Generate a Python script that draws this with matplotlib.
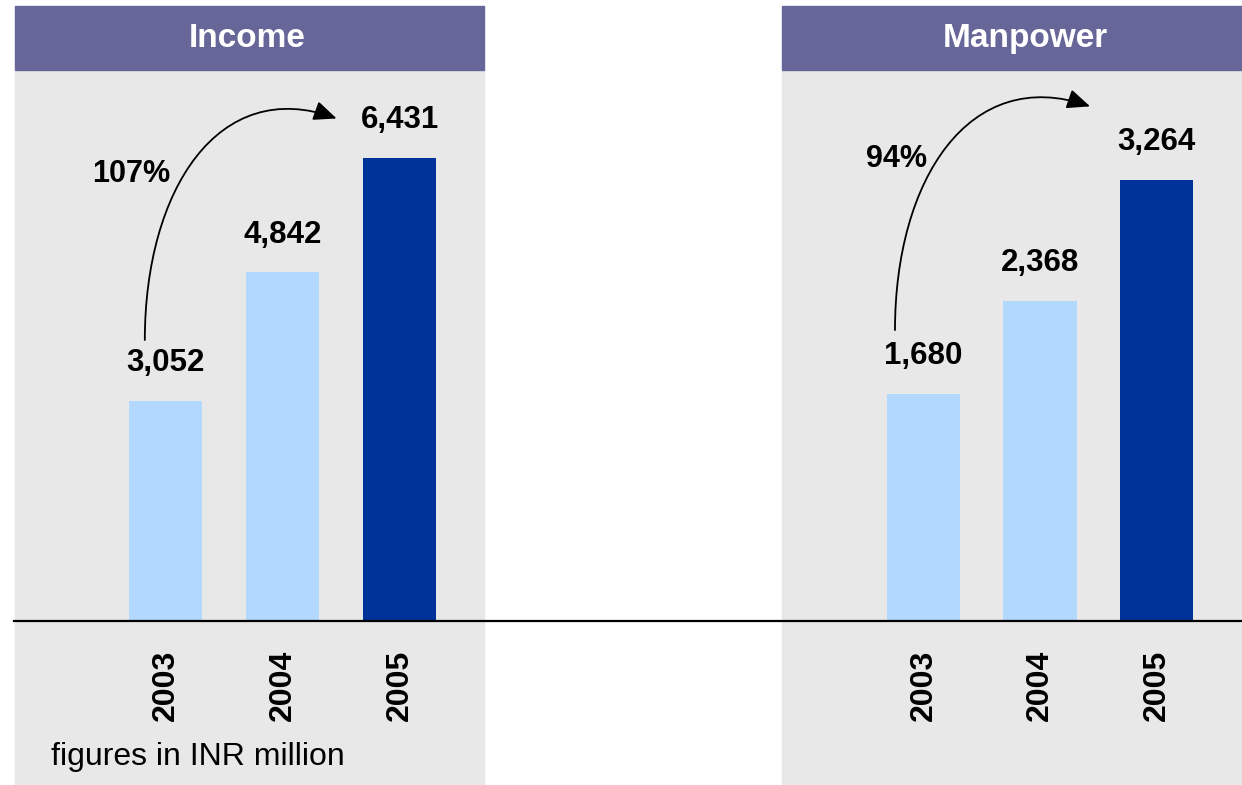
import matplotlib
matplotlib.use("Agg")
import matplotlib.pyplot as plt
from matplotlib.patches import Rectangle, FancyArrowPatch
from matplotlib.path import Path
from matplotlib.lines import Line2D
from matplotlib.transforms import blended_transform_factory

plt.rcParams["font.family"] = ["Liberation Sans", "DejaVu Sans"]

# Data
years = ["2003", "2004", "2005"]
income = [3052, 4842, 6431]
manpower = [1680, 2368, 3264]
income_growth = "107%"
manpower_growth = "94%"
note = "figures in INR million"

LIGHT = "#B3D8FD"
DARK = "#003399"
HEADER = "#666699"
PANEL = "#E8E8E8"
bar_colors = [LIGHT, LIGHT, DARK]

W, H = 1242, 785
fig = plt.figure(figsize=(W / 100, H / 100), dpi=100)
fig.patch.set_facecolor("white")


def fx(px):
    return px / W


def fy(py):
    return 1 - py / H


panels = [
    dict(title="Income", values=income, growth=income_growth,
         left=15, right=484, title_x=247, xlim=(-1.29, 2.72), ymax=7653,
         width=0.624, growth_pos=(-0.30, 0.811),
         arrow=[(-0.18, 0.51), (-0.18, 0.782), (0.45, 0.99), (1.46, 0.912)]),
    dict(title="Manpower", values=manpower, growth=manpower_growth,
         left=782, right=1242, title_x=1025, xlim=(-1.215, 2.734), ymax=4078,
         width=0.627, growth_pos=(-0.236, 0.838),
         arrow=[(-0.245, 0.528), (-0.245, 0.80), (0.39, 1.01), (1.43, 0.934)]),
]

for p in panels:
    l, r = p["left"], p["right"]
    # panel background and title bar
    fig.patches.append(Rectangle((fx(l), 0), fx(r) - fx(l), fy(71),
                                 transform=fig.transFigure, color=PANEL, zorder=-2))
    fig.patches.append(Rectangle((fx(l), fy(70)), fx(r) - fx(l), fy(6) - fy(70),
                                 transform=fig.transFigure, color=HEADER, zorder=-2))
    fig.text(fx(p["title_x"]), fy(47), p["title"], color="white", fontsize=24,
             fontweight="bold", ha="center", va="baseline")

    ax = fig.add_axes([fx(l), fy(621), fx(r) - fx(l), fy(70) - fy(621)])
    ax.set_facecolor("none")
    ax.axis("off")
    x = range(len(years))
    ax.bar(x, p["values"], width=p["width"], color=bar_colors, zorder=2)
    ax.set_xlim(*p["xlim"])
    ax.set_ylim(0, p["ymax"])

    for i, v in enumerate(p["values"]):
        ax.annotate(f"{v:,}", (i, v), xytext=(0, 21.5), textcoords="offset points",
                    ha="center", va="baseline", fontsize=22.5, fontweight="bold")

    bt = blended_transform_factory(ax.transData, ax.transAxes)
    for i, yr in enumerate(years):
        ax.text(i, -0.116, yr, transform=bt, rotation=90, ha="center",
                va="center", fontsize=23, fontweight="bold", clip_on=False)

    gx, gy = p["growth_pos"]
    ax.text(gx, gy, p["growth"], transform=bt, ha="center", va="center",
            fontsize=22, fontweight="bold")

    path = Path(p["arrow"], [Path.MOVETO, Path.CURVE4, Path.CURVE4, Path.CURVE4])
    arrow = FancyArrowPatch(path=path, transform=bt,
                            arrowstyle="-|>,head_length=1.4,head_width=0.6",
                            mutation_scale=10, color="black", lw=1.3,
                            clip_on=False)
    ax.add_patch(arrow)

# baseline across both panels
fig.add_artist(Line2D([fx(14), 1], [fy(621), fy(621)], transform=fig.transFigure,
                      color="black", lw=1.6, zorder=5))

fig.text(fx(51), fy(765), note, fontsize=23, ha="left", va="baseline")

fig.savefig("out.png", dpi=100)
